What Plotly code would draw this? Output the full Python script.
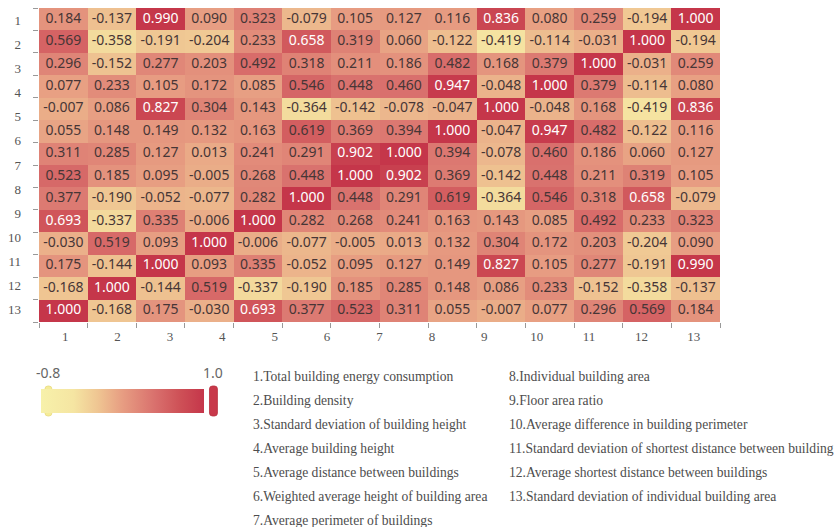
import plotly.graph_objects as go

# ---- data ----
axis_labels = [str(i) for i in range(1, 14)]

matrix = [
    [0.184, -0.137, 0.990, 0.090, 0.323, -0.079, 0.105, 0.127, 0.116, 0.836, 0.080, 0.259, -0.194, 1.000],
    [0.569, -0.358, -0.191, -0.204, 0.233, 0.658, 0.319, 0.060, -0.122, -0.419, -0.114, -0.031, 1.000, -0.194],
    [0.296, -0.152, 0.277, 0.203, 0.492, 0.318, 0.211, 0.186, 0.482, 0.168, 0.379, 1.000, -0.031, 0.259],
    [0.077, 0.233, 0.105, 0.172, 0.085, 0.546, 0.448, 0.460, 0.947, -0.048, 1.000, 0.379, -0.114, 0.080],
    [-0.007, 0.086, 0.827, 0.304, 0.143, -0.364, -0.142, -0.078, -0.047, 1.000, -0.048, 0.168, -0.419, 0.836],
    [0.055, 0.148, 0.149, 0.132, 0.163, 0.619, 0.369, 0.394, 1.000, -0.047, 0.947, 0.482, -0.122, 0.116],
    [0.311, 0.285, 0.127, 0.013, 0.241, 0.291, 0.902, 1.000, 0.394, -0.078, 0.460, 0.186, 0.060, 0.127],
    [0.523, 0.185, 0.095, -0.005, 0.268, 0.448, 1.000, 0.902, 0.369, -0.142, 0.448, 0.211, 0.319, 0.105],
    [0.377, -0.190, -0.052, -0.077, 0.282, 1.000, 0.448, 0.291, 0.619, -0.364, 0.546, 0.318, 0.658, -0.079],
    [0.693, -0.337, 0.335, -0.006, 1.000, 0.282, 0.268, 0.241, 0.163, 0.143, 0.085, 0.492, 0.233, 0.323],
    [-0.030, 0.519, 0.093, 1.000, -0.006, -0.077, -0.005, 0.013, 0.132, 0.304, 0.172, 0.203, -0.204, 0.090],
    [0.175, -0.144, 1.000, 0.093, 0.335, -0.052, 0.095, 0.127, 0.149, 0.827, 0.105, 0.277, -0.191, 0.990],
    [-0.168, 1.000, -0.144, 0.519, -0.337, -0.190, 0.185, 0.285, 0.148, 0.086, 0.233, -0.152, -0.358, -0.137],
    [1.000, -0.168, 0.175, -0.030, 0.693, 0.377, 0.523, 0.311, 0.055, -0.007, 0.077, 0.296, 0.569, 0.184],
]

legend_left = [
    "1.Total building energy consumption",
    "2.Building density",
    "3.Standard deviation of building height",
    "4.Average building height",
    "5.Average distance between buildings",
    "6.Weighted average height of building area",
    "7.Average perimeter of buildings",
]
legend_right = [
    "8.Individual building area",
    "9.Floor area ratio",
    "10.Average difference in building perimeter",
    "11.Standard deviation of shortest distance between building",
    "12.Average shortest distance between buildings",
    "13.Standard deviation of individual building area",
]

vmin, vmax = -0.8, 1.0

# ---- styling ----
W, H = 835, 527
ML, MR, MT, MB = 33, 115, 8, 205
PW, PH = W - ML - MR, H - MT - MB

colorscale = [
    [0.00, "#f7f1aa"],
    [0.20, "#f5e5a2"],
    [0.35, "#efc592"],
    [0.50, "#e79d82"],
    [0.70, "#d9706d"],
    [0.85, "#ce5157"],
    [1.00, "#c5364a"],
]

n = len(matrix)
idx = list(range(n))
# 13 labels spread evenly across the 14-cell wide axis
lab_pos = [-0.5 + (i + 0.5) * n / len(axis_labels) for i in range(len(axis_labels))]
bounds = [i - 0.5 for i in range(n + 1)]

fig = go.Figure()
fig.add_trace(go.Heatmap(
    z=matrix, x=idx, y=idx,
    zmin=vmin, zmax=vmax,
    colorscale=colorscale,
    xgap=0, ygap=0,
    hoverinfo="skip",
    colorbar=dict(
        orientation="h",
        xref="container", yref="container",
        x=(126 + 24) / W, xanchor="center",
        y=(H - 401) / H, yanchor="middle",
        len=163, lenmode="pixels",
        thickness=24,
        outlinewidth=0,
        xpad=0, ypad=0,
        showticklabels=False,
        ticks="",
    ),
))

# cell texts: dark vs light
thr = 0.64
for light in (False, True):
    xs, ys, ts = [], [], []
    for r in range(n):
        for c in range(n):
            v = matrix[r][c]
            if (v > thr) == light:
                xs.append(c)
                ys.append(r)
                ts.append(f"{v:.3f}")
    fig.add_trace(go.Scatter(
        x=xs, y=ys, text=ts, mode="text",
        textfont=dict(family="Noto Sans", size=14,
                      color="#ffffff" if light else "#473636"),
        hoverinfo="skip", showlegend=False,
    ))

axis_common = dict(
    tickmode="array",
    tickvals=lab_pos,
    ticktext=axis_labels,
    ticks="",
    showgrid=False, zeroline=False, showline=False,
    tickfont=dict(family="Liberation Serif", size=13, color="#555555"),
    minor=dict(tickmode="array", tickvals=bounds, ticks="outside",
               ticklen=5, tickwidth=1, tickcolor="#999999", showgrid=False),
)

fig.update_xaxes(range=[-0.5, n - 0.5], ticklabelstandoff=5, **axis_common)
fig.update_yaxes(range=[n - 0.5, -0.5], ticklabelstandoff=17, **axis_common)

def px_x(px):
    return (px - ML) / PW

def px_y(py):
    return (H - MB - py) / PH

annotations = [
    dict(x=px_x(42), y=px_y(372), text="-0.8", showarrow=False,
         xref="paper", yref="paper", xanchor="center", yanchor="middle",
         font=dict(family="Noto Sans", size=14, color="#666666")),
    dict(x=px_x(209), y=px_y(372), text="1.0", showarrow=False,
         xref="paper", yref="paper", xanchor="center", yanchor="middle",
         font=dict(family="Noto Sans", size=14, color="#666666")),
]
for i, t in enumerate(legend_left):
    annotations.append(dict(x=px_x(247), y=px_y(376 + 24 * i), text=t, showarrow=False,
                            xref="paper", yref="paper", xanchor="left", yanchor="middle",
                            font=dict(family="Liberation Serif", size=13.6, color="#4d4d4d")))
for i, t in enumerate(legend_right):
    annotations.append(dict(x=px_x(505), y=px_y(376 + 24 * i), text=t, showarrow=False,
                            xref="paper", yref="paper", xanchor="left", yanchor="middle",
                            font=dict(family="Liberation Serif", size=13.6, color="#4d4d4d")))

# colorbar end handles (rounded)
def rounded_path(x0, x1, y0, y1, r):
    X = lambda v: px_x(v)
    Y = lambda v: px_y(v)
    return (f"M {X(x0 + r)},{Y(y0)} L {X(x1 - r)},{Y(y0)} Q {X(x1)},{Y(y0)} {X(x1)},{Y(y0 + r)} "
            f"L {X(x1)},{Y(y1 - r)} Q {X(x1)},{Y(y1)} {X(x1 - r)},{Y(y1)} "
            f"L {X(x0 + r)},{Y(y1)} Q {X(x0)},{Y(y1)} {X(x0)},{Y(y1 - r)} "
            f"L {X(x0)},{Y(y0 + r)} Q {X(x0)},{Y(y0)} {X(x0 + r)},{Y(y0)} Z")

shapes = [
    dict(type="path", xref="paper", yref="paper", path=rounded_path(39, 46, 386, 416, 3),
         fillcolor="#f5ec98", line=dict(width=0.8, color="#e8da80"), layer="above"),
    dict(type="path", xref="paper", yref="paper", path=rounded_path(205, 213, 386, 416, 3),
         fillcolor="#c8384a", line=dict(width=0.8, color="#b8303f"), layer="above"),
]

fig.update_layout(
    width=W, height=H,
    margin=dict(l=ML, r=MR, t=MT, b=MB),
    paper_bgcolor="white", plot_bgcolor="white",
    showlegend=False,
    annotations=annotations,
    shapes=shapes,
)

fig.write_html("out.html",
               config={"displayModeBar": False},
               post_script="document.body.style.margin='0';document.body.style.overflow='hidden';")
